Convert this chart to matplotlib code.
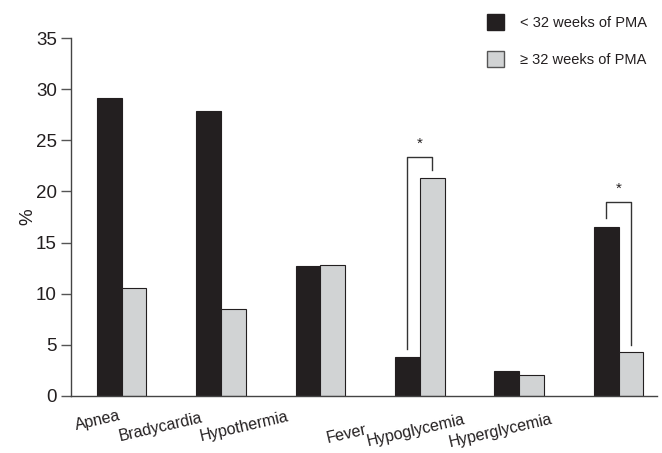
import matplotlib.pyplot as plt
import numpy as np
from matplotlib.patches import Patch
import matplotlib.transforms as mtransforms

# 字体
plt.rcParams['font.family'] = ['Liberation Sans', 'DejaVu Sans']

categories = ['Apnea', 'Bradycardia', 'Hypothermia', 'Fever', 'Hypoglycemia', 'Hyperglycemia']
below_32 = [29.1, 27.9, 12.7, 3.8, 2.4, 16.5]
above_32 = [10.6, 8.5, 12.8, 21.3, 2.0, 4.3]
series_labels = ['< 32 weeks of PMA', '\u2265 32 weeks of PMA']
yticks = [0, 5, 10, 15, 20, 25, 30, 35]

# label anchor positions (group units) and baseline offsets (points below axis)
label_x = [0.0, 0.82, 1.69, 2.47, 3.46, 4.34]
label_dy = [-17, -19, -18, -27, -20, -20]

dark = '#231f20'
light = '#d1d3d4'

fig = plt.figure(figsize=(6.62, 4.53), dpi=100)
ax = fig.add_axes([0.107, 0.126, 0.886, 0.79])

x = np.arange(len(categories))
w = 0.25
ax.bar(x - w / 2, below_32, w, color=dark, edgecolor=dark, linewidth=0.8)
ax.bar(x + w / 2, above_32, w, color=light, edgecolor=dark, linewidth=0.8)

ax.set_xlim(-0.51, 5.39)
ax.set_ylim(0, 35)
ax.set_yticks(yticks)
ax.tick_params(axis='y', labelsize=13.5, length=7, width=1, color='#555555', pad=3,
               labelcolor=dark)
ax.set_xticks([])
for s in ['top', 'right']:
    ax.spines[s].set_visible(False)
for s in ['left', 'bottom']:
    ax.spines[s].set_color('#444444')
    ax.spines[s].set_linewidth(1)
ax.set_ylabel('%', fontsize=13.5, labelpad=0, color=dark)

# x labels
for i, name in enumerate(categories):
    tr = mtransforms.offset_copy(ax.get_xaxis_transform(), fig=fig, x=0, y=label_dy[i], units='points')
    ax.text(label_x[i], 0, name, transform=tr, rotation=13, rotation_mode='anchor',
            ha='right', va='baseline', fontsize=11.5, color=dark)

# significance brackets
def bracket(i, y_top, y_left, y_right):
    xl, xr = i - w / 2, i + w / 2
    ax.plot([xl, xl, xr, xr], [y_left, y_top, y_top, y_right], color='#333333', lw=1)
    ax.text(i, y_top + 1.3, '*', ha='center', va='center', fontsize=11, color=dark)

bracket(3, 23.4, 4.6, 22.1)
bracket(5, 19.0, 17.4, 5.0)

handles = [Patch(facecolor=dark, edgecolor=dark), Patch(facecolor=light, edgecolor='#555555')]
fig.legend(handles, series_labels, loc='upper left', bbox_to_anchor=(0.716, 0.997),
           frameon=False, fontsize=10.5, handlelength=1.17, handleheight=1.3,
           labelspacing=1.43, handletextpad=1.1, borderpad=0.4, labelcolor=dark)

plt.savefig('out.png', dpi=100)
